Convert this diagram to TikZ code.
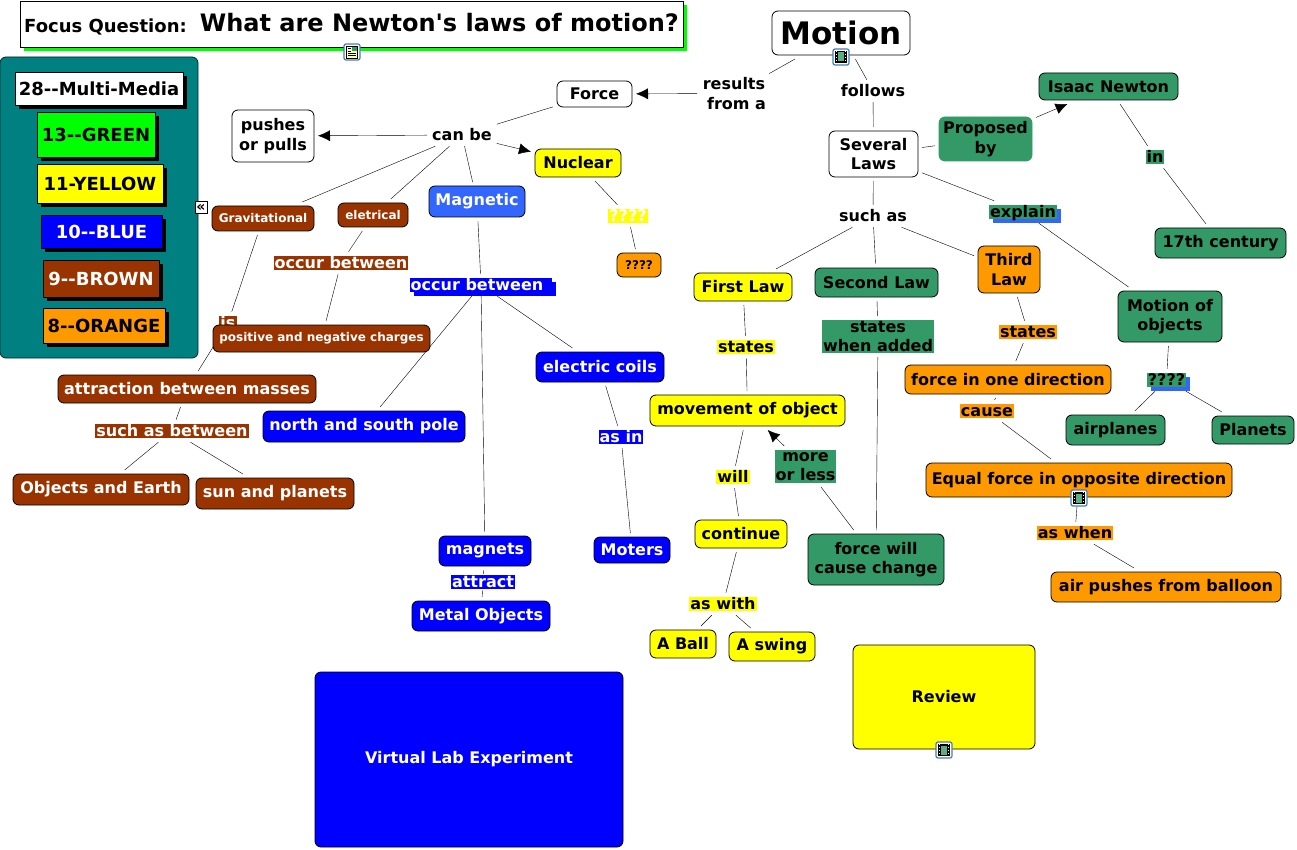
\documentclass[tikz,border=0pt]{standalone}
\usepackage{fontspec}
\setmainfont[Ligatures=TeXOff]{DejaVu Sans}
\usetikzlibrary{arrows.meta,shadows,backgrounds}
\definecolor{cgreen}{RGB}{51,153,102}
\definecolor{cyellow}{RGB}{255,255,0}
\definecolor{corange}{RGB}{255,153,0}
\definecolor{cbrown}{RGB}{153,51,0}
\definecolor{cblue}{RGB}{0,0,255}
\definecolor{cskyblue}{RGB}{51,102,255}
\definecolor{cteal}{RGB}{0,128,128}
\definecolor{clime}{RGB}{0,255,0}
\definecolor{ciconblue}{RGB}{70,125,190}
\tikzset{
	base/.style = {font = \bfseries\fontsize{16}{19.5}\selectfont, align = center, outer sep = 4pt},
	small/.style = {font = \bfseries\fontsize{12}{15}\selectfont},
	concept/.style = {base, draw = black, line width = 0.8pt, rounded corners = 6pt, inner sep = 0pt, fill = white},
	phrase/.style = {base, inner xsep = 1pt, inner ysep = 0pt},
	link/.style = {phrase, text height = 12.5pt, text depth = 2pt},
	legend/.style = {base, draw = black, line width = 0.8pt, inner sep = 0pt, font = \bfseries\fontsize{18}{22}\selectfont,
		copy shadow = {shadow xshift = 4pt, shadow yshift = -4pt, fill = black, draw = none}},
	blueshadow/.style = {copy shadow = {shadow xshift = 4pt, shadow yshift = -4pt, fill = #1, draw = none}},
	arrow/.style = {-{Latex[length = 12pt, width = 11pt]}},
	filmicon/.pic = {
		\draw [fill = white, draw = ciconblue, line width = 1.2pt, rounded corners = 2pt] (-8,-8) rectangle (8,8);
		\fill [black] (-6,-6) rectangle (6,6);
		\fill [cgreen!80!white] (-3,-4.5) rectangle (3,4.5);
		\draw [white, line width = 1.4pt, dash pattern = on 1.4pt off 1.6pt] (-4.6,-6) -- (-4.6,6);
		\draw [white, line width = 1.4pt, dash pattern = on 1.4pt off 1.6pt] (4.6,-6) -- (4.6,6);
	},
	noteicon/.pic = {
		\draw [fill = white, draw = ciconblue, line width = 1.2pt, rounded corners = 2pt] (-8,-8) rectangle (8,8);
		\draw [fill = cyellow!30!white, draw = black, line width = 0.6pt] (-5.5,-6) rectangle (5.5,6);
		\fill [cgreen] (0,-5) rectangle (4.5,-0.5);
		\draw [black, line width = 0.7pt] (-4,-3.5) -- (-1,-3.5) (-4,-1) -- (-1,-1) (-4,1) -- (4,1) (-4,3) -- (4,3);
	}
}
\begin{document}
\begin{tikzpicture}[x = 1pt, y = -1pt, line width = 1pt]
	\useasboundingbox (0,0) rectangle (1297,850);
	% focus question and counts
	\node [base, draw = black, line width = 0.8pt, fill = white, inner sep = 0pt, minimum width = 663, minimum height = 46,
		copy shadow = {shadow xshift = 4pt, shadow yshift = -4pt, fill = clime, draw = none}] (focus) at (351.5,24)
		{\fontsize{18}{20}\selectfont Focus Question:\hspace{13pt}\raisebox{1.5pt}{\fontsize{24}{28}\selectfont What are Newton's laws of motion?}};
	\pic at (352,52) {noteicon};
	\node [draw = black!70!cteal, line width = 0.8pt, fill = cteal, rounded corners = 6pt, minimum width = 198, minimum height = 301] (panel) at (99,207.5) {};
	\node [legend, fill = white, minimum width = 168, minimum height = 33] (multimedia) at (99,88.5) {28--Multi-Media};
	\node [legend, fill = clime, minimum width = 118, minimum height = 45] (lgreen) at (96,134.5) {13--GREEN};
	\node [legend, fill = cyellow, minimum width = 126, minimum height = 39] (lyellow) at (100,183.5) {11-YELLOW};
	\node [legend, fill = cblue, text = white, minimum width = 121, minimum height = 33] (lblue) at (101.5,231.5) {10--BLUE};
	\node [legend, fill = cbrown, text = white, minimum width = 116, minimum height = 37] (lbrown) at (101,278.5) {9--BROWN};
	\node [legend, fill = corange, minimum width = 122, minimum height = 35] (lorange) at (104,325.5) {8--ORANGE};
	\node [draw = black, fill = white, line width = 0.8pt, inner sep = 0pt, minimum size = 12, font = \bfseries\fontsize{14}{14}\selectfont] (collapse) at (201,207.5) {«};
	% white part at the top
	\node [concept, font = \bfseries\fontsize{31}{36}\selectfont, minimum width = 138, minimum height = 44] (motion) at (841,33) {Motion};
	\pic at (841,57) {filmicon};
	\node [phrase] (results) at (734,93.5) {results\\ \hspace{5pt}from a};
	\node [link] (follows) at (873,91) {follows};
	\node [concept, minimum width = 75, minimum height = 26] (force) at (594.5,94) {Force};
	\node [concept, minimum width = 89, minimum height = 46] (laws) at (873.5,154) {Several\\ Laws};
	\node [link] (canbe) at (462,135) {can be};
	\node [concept, minimum width = 82, minimum height = 52] (pushes) at (273,136) {pushes\\ or pulls};
	\node [link] (suchas) at (873,216) {such as};
	% brown part
	\node [concept, small, fill = cbrown, text = white, minimum width = 102, minimum height = 25] (gravity) at (263,218.5) {Gravitational};
	\node [concept, small, fill = cbrown, text = white, minimum width = 70, minimum height = 24] (electrical) at (373,215) {eletrical};
	\node [link, fill = cbrown, text = white] (occurbrown) at (341,263) {occur between};
	\node [link, fill = cbrown, text = white] (isphrase) at (228,323) {is};
	\node [concept, small, fill = cbrown, text = white, minimum width = 217, minimum height = 27] (charges) at (321.5,338.5) {positive and negative charges};
	\node [concept, fill = cbrown, text = white, minimum width = 258, minimum height = 28] (masses) at (187,389) {attraction between masses};
	\node [link, fill = cbrown, text = white] (suchbetween) at (172,431) {such as between};
	\node [concept, fill = cbrown, text = white, minimum width = 176, minimum height = 31] (earth) at (101,489.5) {Objects and Earth};
	\node [concept, fill = cbrown, text = white, minimum width = 158, minimum height = 31] (sun) at (275,493.5) {sun and planets};
	% blue part
	\node [concept, fill = cskyblue, text = white, minimum width = 96, minimum height = 31] (magnetic) at (477,201.5) {Magnetic};
	\node [link, fill = cblue, text = white, blueshadow = cblue] (occurblue) at (481,285) {occur between\hspace{8pt}};
	\node [concept, fill = cblue, text = white, minimum width = 202, minimum height = 31] (pole) at (364,426.5) {north and south pole};
	\node [concept, fill = cblue, text = white, minimum width = 128, minimum height = 30] (coils) at (600,367) {electric coils};
	\node [link, fill = cblue, text = white] (asin) at (621,437) {as in};
	\node [concept, fill = cblue, text = white, minimum width = 76, minimum height = 26] (moters) at (632,550) {Moters};
	\node [concept, fill = cblue, text = white, minimum width = 92, minimum height = 30] (magnets) at (485,551) {magnets};
	\node [link, fill = cblue, text = white, outer sep = 1pt] (attract) at (483,582) {attract};
	\node [concept, fill = cblue, text = white, minimum width = 138, minimum height = 30] (metal) at (481,616) {Metal Objects};
	\node [concept, fill = cblue, text = white, minimum width = 308, minimum height = 175] (lab) at (469,759.5) {Virtual Lab Experiment};
	% nuclear
	\node [concept, fill = cyellow, minimum width = 86, minimum height = 28] (nuclear) at (578,163) {Nuclear};
	\node [link, fill = cyellow, text = white] (unknownyellow) at (628,216) {????};
	\node [concept, small, fill = corange, minimum width = 44, minimum height = 24] (unknownorange) at (639,265) {????};
	% green part
	\node [concept, fill = cgreen, draw = cgreen, minimum width = 93, minimum height = 44] (proposed) at (985.5,139) {Proposed\\ by};
	\node [concept, fill = cgreen, minimum width = 139, minimum height = 27] (newton) at (1108.5,86.5) {Isaac Newton};
	\node [link, fill = cgreen] (inphrase) at (1155,157) {in};
	\node [concept, fill = cgreen, minimum width = 131, minimum height = 30] (century) at (1220.5,243) {17th century};
	\node [link, fill = cgreen, blueshadow = cskyblue] (explain) at (1023,212) {explain};
	\node [concept, fill = cgreen, minimum width = 104, minimum height = 51] (objects) at (1170,316.5) {Motion of\\ objects};
	\node [link, fill = cgreen, blueshadow = cskyblue] (unknowngreen) at (1166.5,380) {????};
	\node [concept, fill = cgreen, minimum width = 99, minimum height = 30] (airplanes) at (1115.5,430) {airplanes};
	\node [concept, fill = cgreen, minimum width = 82, minimum height = 28] (planets) at (1253,430) {Planets};
	% the three laws
	\node [concept, fill = cyellow, minimum width = 98, minimum height = 28] (first) at (743,287) {First Law};
	\node [concept, fill = cgreen, minimum width = 123, minimum height = 29] (second) at (876.5,282.5) {Second Law};
	\node [concept, fill = corange, minimum width = 62, minimum height = 47] (third) at (1009,269.5) {Third\\ Law};
	\node [link, fill = cyellow] (statesyellow) at (746,347) {states};
	\node [phrase, fill = cgreen, minimum width = 112, minimum height = 33] (statesgreen) at (878,336.5) {states\\ when added};
	\node [link, fill = corange] (statesorange) at (1028,332) {states};
	\node [concept, fill = cyellow, minimum width = 195, minimum height = 31] (movement) at (747.5,410.5) {movement of object};
	\node [concept, fill = corange, minimum width = 206, minimum height = 29] (onedirection) at (1008,379.5) {force in one direction};
	\node [link, fill = corange] (cause) at (987,411) {cause};
	\node [concept, fill = corange, minimum width = 306, minimum height = 34] (equal) at (1079,480) {Equal force in opposite direction};
	\pic at (1079,498) {filmicon};
	\node [link, fill = corange] (aswhen) at (1075,533) {as when};
	\node [concept, fill = corange, minimum width = 230, minimum height = 30] (balloon) at (1166,587) {air pushes from balloon};
	\node [link, fill = cyellow] (will) at (733,477) {will};
	\node [concept, fill = cyellow, minimum width = 92, minimum height = 28] (continue) at (741,534) {continue};
	\node [phrase, fill = cgreen, minimum width = 61, minimum height = 33] (moreless) at (805.5,466.5) {more\\ or less};
	\node [concept, fill = cgreen, minimum width = 136, minimum height = 51] (change) at (876,559.5) {force will\\ cause change};
	\node [link, fill = cyellow] (aswith) at (723,604) {as with};
	\node [concept, fill = cyellow, minimum width = 66, minimum height = 28] (ball) at (683,644) {A Ball};
	\node [concept, fill = cyellow, minimum width = 86, minimum height = 29] (swing) at (772,646.5) {A swing};
	\node [concept, fill = cyellow, minimum width = 182, minimum height = 104] (review) at (944,697) {Review};
	\pic at (944,750) {filmicon};
	% links
	\begin{pgfonlayer}{background}
	\draw (motion) -- (results);
	\draw [arrow] (results) -- (force);
	\draw (motion) -- (follows);
	\draw (follows) -- (laws);
	\draw (force) -- (canbe);
	\draw [arrow] (canbe) -- (pushes);
	\draw [arrow] (canbe) -- (nuclear);
	\draw (canbe) -- (gravity);
	\draw (canbe) -- (electrical);
	\draw (canbe) -- (magnetic);
	\draw (gravity) -- (isphrase);
	\draw (isphrase) -- (masses);
	\draw (electrical) -- (occurbrown);
	\draw (occurbrown) -- (charges);
	\draw (masses) -- (suchbetween);
	\draw (suchbetween) -- (earth);
	\draw (suchbetween) -- (sun);
	\draw (magnetic) -- (occurblue);
	\draw (occurblue) -- (pole);
	\draw (occurblue) -- (magnets);
	\draw (occurblue) -- (coils);
	\draw (coils) -- (asin);
	\draw (asin) -- (moters);
	\draw (magnets) -- (attract);
	\draw (attract) -- (metal);
	\draw (nuclear) -- (unknownyellow);
	\draw (unknownyellow) -- (unknownorange);
	\draw (laws) -- (proposed);
	\draw [arrow] (proposed) -- (newton);
	\draw (newton) -- (inphrase);
	\draw (inphrase) -- (century);
	\draw (laws) -- (explain);
	\draw (explain) -- (objects);
	\draw (objects) -- (unknowngreen);
	\draw (unknowngreen) -- (airplanes);
	\draw (unknowngreen) -- (planets);
	\draw (laws) -- (suchas);
	\draw (suchas) -- (first);
	\draw (suchas) -- (second);
	\draw (suchas) -- (third);
	\draw (first) -- (statesyellow);
	\draw (statesyellow) -- (movement);
	\draw (second) -- (statesgreen);
	\draw (statesgreen) -- (change);
	\draw (third) -- (statesorange);
	\draw (statesorange) -- (onedirection);
	\draw (onedirection) -- (cause);
	\draw (cause) -- (equal);
	\draw (equal) -- (aswhen);
	\draw (aswhen) -- (balloon);
	\draw (movement) -- (will);
	\draw (will) -- (continue);
	\draw (continue) -- (aswith);
	\draw (aswith) -- (ball);
	\draw (aswith) -- (swing);
	\draw (change) -- (moreless);
	\draw [arrow] (moreless) -- (movement);
	\end{pgfonlayer}
\end{tikzpicture}
\end{document}
